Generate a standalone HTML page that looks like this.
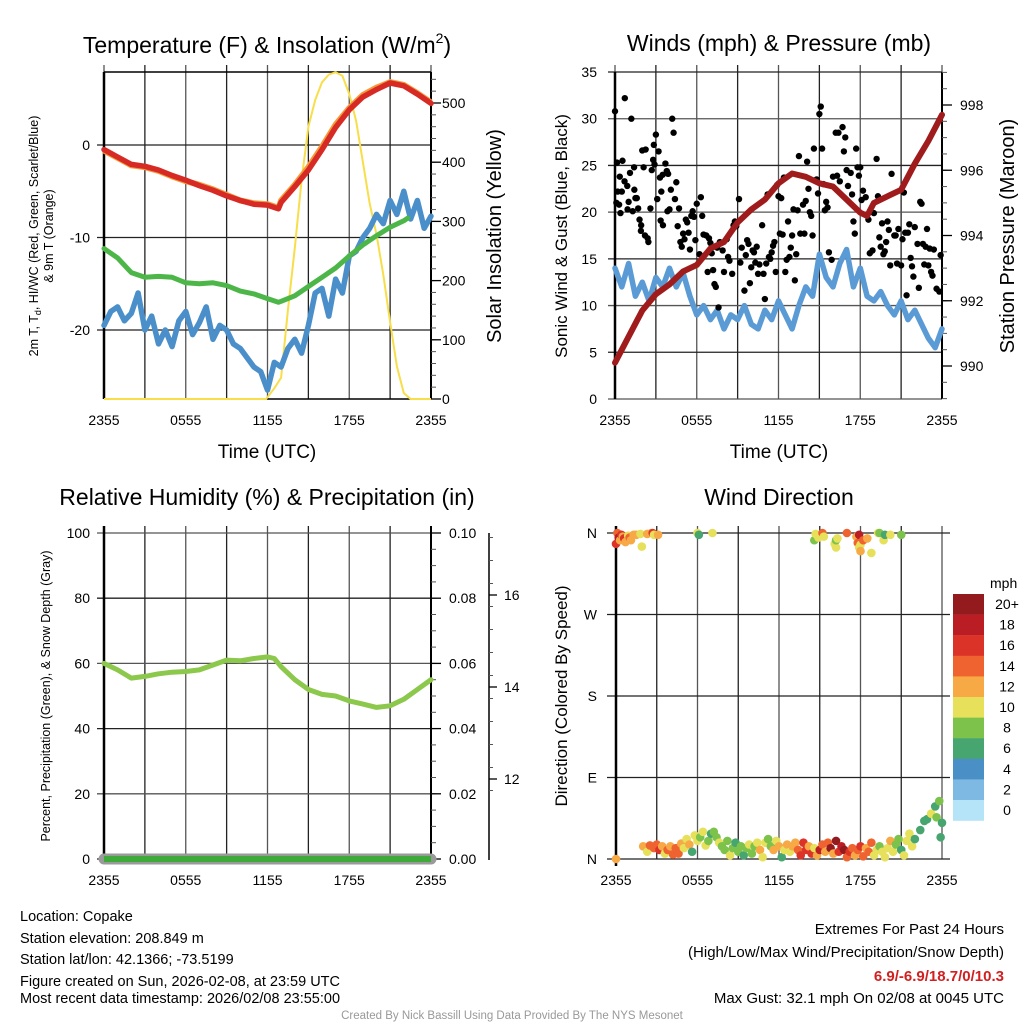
<!DOCTYPE html>
<html><head><meta charset="utf-8">
<style>
html,body{margin:0;padding:0;background:#fff;}
svg{display:block;font-family:"Liberation Sans",sans-serif;}
</style></head>
<body>
<svg id="chart" width="1024" height="1024" viewBox="0 0 1024 1024" xmlns="http://www.w3.org/2000/svg">
<g id="static">
  <text x="267" y="53" font-size="23" text-anchor="middle">Temperature (F) &amp; Insolation (W/m<tspan font-size="14" dy="-10">2</tspan><tspan dy="10">)</tspan></text>
  <text x="779" y="51" font-size="23" text-anchor="middle">Winds (mph) &amp; Pressure (mb)</text>
  <text x="267" y="505" font-size="23" text-anchor="middle">Relative Humidity (%) &amp; Precipitation (in)</text>
  <text x="779" y="505" font-size="23" text-anchor="middle">Wind Direction</text>

  <text transform="translate(38,236) rotate(-90)" font-size="12.5" text-anchor="middle">2m T, T<tspan font-size="9" dy="3">d</tspan><tspan dy="-3">, HI/WC (Red, Green, Scarlet/Blue)</tspan></text>
  <text transform="translate(53,236) rotate(-90)" font-size="12.5" text-anchor="middle">&amp; 9m T (Orange)</text>
  <text transform="translate(501,236) rotate(-90)" font-size="20" text-anchor="middle">Solar Insolation (Yellow)</text>
  <text transform="translate(567,236) rotate(-90)" font-size="17" text-anchor="middle">Sonic Wind &amp; Gust (Blue, Black)</text>
  <text transform="translate(1014,236) rotate(-90)" font-size="20" text-anchor="middle">Station Pressure (Maroon)</text>
  <text transform="translate(50,696) rotate(-90)" font-size="12.5" text-anchor="middle">Percent, Precipitation (Green), &amp; Snow Depth (Gray)</text>
  <text transform="translate(567,696) rotate(-90)" font-size="17" text-anchor="middle">Direction (Colored By Speed)</text>
  <text x="267" y="458" font-size="19" text-anchor="middle">Time (UTC)</text>
  <text x="779" y="458" font-size="19" text-anchor="middle">Time (UTC)</text>

  <g font-size="14.5">
    <text x="20" y="921">Location: Copake</text>
    <text x="20" y="943">Station elevation: 208.849 m</text>
    <text x="20" y="964">Station lat/lon: 42.1366; -73.5199</text>
    <text x="20" y="986">Figure created on Sun, 2026-02-08, at 23:59 UTC</text>
    <text x="20" y="1003">Most recent data timestamp: 2026/02/08 23:55:00</text>
  </g>
  <g font-size="15" text-anchor="end">
    <text x="1004" y="934">Extremes For Past 24 Hours</text>
    <text x="1004" y="957">(High/Low/Max Wind/Precipitation/Snow Depth)</text>
    <text x="1004" y="981" fill="#d22020" font-weight="bold">6.9/-6.9/18.7/0/10.3</text>
    <text x="1004" y="1003">Max Gust: 32.1 mph On 02/08 at 0045 UTC</text>
  </g>
  <text x="512" y="1019" font-size="11.5" fill="#999" text-anchor="middle">Created By Nick Bassill Using Data Provided By The NYS Mesonet</text>
</g>
<g id="dyn"></g>
</svg>
<script>
// ---------- data ----------
const xTickLabels = ["2355","0555","1155","1755","2355"];
const hourTimes = [0,1,2,3,4,5,6,7,8,9,10,11,12,12.8,13,14,15,16,17,18,19,20,21,22,23,24];
const tempValues = [-0.5,-1.3,-2.1,-2.3,-2.7,-3.3,-3.8,-4.4,-4.9,-5.5,-6.0,-6.4,-6.5,-6.9,-6.2,-4.5,-2.7,-0.5,1.9,3.8,5.2,6.0,6.7,6.4,5.5,4.5];
const temp9mValues = [-0.6,-1.4,-2.2,-2.4,-2.8,-3.4,-3.9,-4.3,-4.8,-5.4,-6.0,-6.3,-6.4,-6.8,-6.0,-4.3,-2.4,-0.2,2.2,4.0,5.4,6.2,6.8,6.5,5.6,4.6];
const dewTimes = [0,1,2,3,4,5,6,7,8,9,10,11,12,12.8,13,14,15,16,17,18,19,20,21,22,22.3];
const dewValues = [-11.2,-12.2,-13.8,-14.3,-14.2,-14.3,-14.9,-15.0,-14.9,-15.2,-15.8,-16.1,-16.6,-17.0,-16.9,-16.3,-15.3,-14.3,-13.3,-12.0,-10.8,-9.8,-8.9,-8.2,-7.9];
const halfTimes = [0,0.5,1,1.5,2,2.5,3,3.5,4,4.5,5,5.5,6,6.5,7,7.5,8,8.5,9,9.5,10,10.5,11,11.5,12,12.5,13,13.5,14,14.5,15,15.5,16,16.5,17,17.5,18,18.5,19,19.5,20,20.5,21,21.5,22,22.5,23,23.5,24];
const chillValues = [-19.5,-18,-17.5,-19,-18.2,-16,-20,-18.5,-21.5,-20,-21.8,-19,-18,-20.5,-19.2,-17.5,-21,-19.5,-20,-21.5,-22,-23,-24,-24.5,-26.5,-23.5,-24,-22,-21,-22.5,-19.5,-16,-15.5,-18.5,-14.5,-16,-12,-11.5,-10,-9,-7.5,-8.5,-6,-7.5,-5,-8,-6,-9,-7.7];
const solarTimes = [0,11.9,12.5,13,13.5,14,14.5,15,15.5,16,16.5,17,17.5,18,18.5,19,19.5,20,20.5,21,21.5,22,22.5,24];
const solarValues = [0,0,18,36,150,255,370,460,505,535,548,552,546,515,470,400,330,278,210,130,55,10,0,0];
const windValues = [14,12,14.5,11,12.5,10.5,13,12,14,12,13.5,11,9,10,8.5,9.5,7.5,9,8.5,10,8,7.5,9.5,8.5,10.5,9,7.5,10,12,11,15.5,13,12,14.5,16,12,14,11,10.5,11.5,10,9,10.5,8.5,9.5,8,6.5,5.5,7.5];
const pressTimes = [0,1,2,3,4,5,6,7,8,9,10,11,12,13,14,15,16,17,18,18.5,19,20,21,22,23,24];
const pressValues = [990.1,990.9,991.7,992.2,992.5,992.9,993.1,993.6,993.8,994.4,994.8,995.1,995.6,995.9,995.8,995.6,995.5,995.1,994.7,994.6,995.0,995.2,995.4,996.2,996.9,997.7];
const gustTimes = [0,0.1,0.15,0.2,0.3,0.35,0.4,0.5,0.55,0.7,0.72,0.9,0.92,1.0,1.1,1.2,1.3,1.4,1.42,1.5,1.6,1.7,1.8,1.9,1.92,2.0,2.1,2.2,2.25,2.4,2.45,2.6,2.7,2.8,2.85,2.9,3.0,3.1,3.2,3.3,3.35,3.4,3.5,3.52,3.7,3.8,3.85,3.9,4.0,4.1,4.2,4.3,4.4,4.5,4.6,4.7,4.8,4.9,5.0,5.1,5.2,5.3,5.4,5.5,5.6,5.7,5.8,5.9,6.0,6.2,6.3,6.4,6.5,6.7,6.8,6.9,7.0,7.1,7.2,7.3,7.4,7.5,7.6,7.7,7.9,8.0,8.2,8.3,8.4,8.6,8.7,8.8,8.9,9.1,9.2,9.3,9.5,9.6,9.7,9.8,9.9,10.0,10.1,10.2,10.3,10.4,10.5,10.6,10.8,10.9,11.0,11.1,11.2,11.3,11.4,11.5,11.6,11.7,11.8,11.9,12.0,12.1,12.2,12.3,12.4,12.5,12.6,12.7,12.8,12.9,13.0,13.1,13.2,13.3,13.4,13.5,13.6,13.8,13.9,14.0,14.1,14.2,14.3,14.4,14.5,14.6,14.8,14.9,15.0,15.1,15.2,15.3,15.4,15.5,15.6,15.7,15.9,16.0,16.2,16.3,16.4,16.5,16.7,16.8,16.9,17.0,17.1,17.3,17.4,17.5,17.6,17.7,17.8,17.9,18.0,18.1,18.2,18.4,18.6,18.7,18.9,19.0,19.2,19.3,19.4,19.5,19.6,19.7,19.8,19.9,20.0,20.1,20.2,20.3,20.5,20.6,20.7,20.8,21.0,21.1,21.2,21.3,21.4,21.5,21.6,21.7,21.8,21.9,22.0,22.2,22.3,22.4,22.5,22.6,22.7,22.8,22.9,23.0,23.1,23.2,23.3,23.4,23.6,23.8,23.9];
const gustValues = [30.8,21,25.3,22.2,20.8,23.8,19.9,22.2,25.5,23.3,32.2,22.8,20.3,21.1,24.2,30,20.1,24.8,22.4,21.5,21.5,20.4,19.2,18,18.6,26.6,24.8,17.5,26.7,17.2,16.8,20.4,24.5,25.6,27.2,25.1,28.3,21.4,26.5,23.7,19.1,22.2,24,18.6,25.2,24.4,20.1,24.1,20.3,22.4,30,28.5,21.4,23.2,18.5,20.4,16.8,16.3,17.7,17.1,19.2,18.9,17.8,16.0,19.6,20.1,19.5,17,20.9,15.5,21.6,19.6,17.6,17.5,13.6,17.2,16.7,15.6,13.8,12.3,12,16.2,9.8,16.8,15.9,13.6,17.1,15.2,14.8,13.4,18.6,19,18.5,21.4,14.6,16.2,11.6,15.4,17,16.6,12.4,14.1,15.9,15.7,14.6,16.3,13.4,14.4,18.6,13.4,10.7,14.5,21.9,15.2,15,15.7,16.4,16.8,13.6,22.9,21.7,17.7,21.5,17.6,23.7,13.6,14.9,19,15.2,16.2,17.5,20.3,12.7,15.5,20.2,26,17.7,20.8,17.7,21.2,25.4,22.5,20,19.6,17.5,26.8,23.5,22,30.5,31.3,26.8,23,20.2,21.1,20.5,15.7,14.9,23.8,28.5,23.9,28.5,23.3,29.1,26.5,28,24.5,22.8,24.2,21.9,19,17.7,26.8,24.8,23.9,24.8,21.3,22.3,21.6,19.2,15.6,15.9,19.9,25.7,21.7,17.3,16.3,18.8,15.5,15.8,16.8,19,18.1,14.3,24.1,17.5,17.5,14.5,18.2,14.3,17.1,22.1,17.8,11.1,17.8,18.7,15.1,14.2,13.1,18.4,16.6,11.9,21.1,20.9,16.6,14.4,16.3,18.2,14.3,16.1,13.6,13.2,16.0,11.8,11.5,15.4];
const rhTimes = [0,1,2,3,4,5,6,7,8,9,10,11,12,12.5,13,14,15,16,17,18,19,20,21,22,23,24];
const rhValues = [60,58,55.5,56,56.8,57.3,57.5,58,59.5,61,60.8,61.5,62,61.5,59,55,52,50.5,50,48.5,47.5,46.5,47,49,52,55];
const precipValues = [0,0];
const precipTimes = [0,24];
const dirTimes = [0,0.1,0.2,0.3,0.4,0.5,0.6,0.7,0.9,1.0,1.1,1.3,1.5,1.8,1.9,2.3,2.6,2.7,2.8,3.1,6.0,6.1,7.1,14.6,14.7,14.9,15.2,15.3,16.1,16.2,16.2,16.3,17.0,17.7,17.8,17.9,18.0,17.9,18.0,18.2,18.5,18.8,19.3,19.4,19.7,19.8,20.2,21.0,
 0,2.0,2.3,2.5,2.8,3.0,3.2,3.4,3.6,3.8,4.0,4.2,4.4,4.6,4.8,5.0,5.2,5.4,5.6,5.8,6.0,6.2,6.4,6.6,6.8,7.0,7.2,7.4,7.6,7.8,8.0,8.2,8.4,8.6,8.8,9.0,9.2,9.4,9.6,9.8,10.0,10.2,10.4,10.6,10.8,11.0,11.2,11.4,11.6,11.8,12.0,12.2,12.4,12.6,12.8,13.0,13.2,13.4,13.6,13.8,14.0,14.2,14.4,14.6,14.8,15.0,15.2,15.4,15.6,15.8,16.0,16.2,16.4,16.6,16.8,17.0,17.2,17.4,17.6,17.8,18.0,18.2,18.4,18.6,18.8,19.0,19.2,19.4,19.6,19.8,20.0,20.2,20.4,20.6,20.8,21.0,21.2,21.4,21.6,21.8,22.0,22.4,22.7,22.9,23.2,23.5,23.6,23.8,23.9,24];
const dirValues = [348,360,355,352,358,356,354,350,357,355,352,358,358,359,345,359,360,360,358,358,360,358,360,352,359,355,360,356,348,344,352,354,360,356,349,358,347,344,340,352,354,338,360,360,352,358,358,358,
 0,14,8,15,12,16,10,14,6,10,14,5,12,6,17,12,22,16,8,26,20,24,30,15,20,28,30,24,18,14,10,20,4,12,18,8,14,4,12,16,6,14,18,10,2,18,22,14,10,20,14,2,10,16,8,14,18,10,4,18,10,14,6,12,4,10,16,8,18,12,6,20,8,14,10,2,8,12,4,10,14,3,12,8,18,4,10,14,8,2,12,20,8,16,22,10,4,20,28,14,22,32,42,44,50,58,46,64,24,40];
const dirSpeeds = [16,15,18,13,17,12,16,13,11,14,13,12,12,10,10,12,12,16,10,12,10,7,10,8,10,10,15,10,10,10,8,10,15,13,15,19,10,10,12,14,12,10,10,8,10,6,10,8,
 12,12,10,14,14,14,16,12,10,14,12,14,14,14,12,10,10,12,6,10,10,8,10,10,8,6,8,8,10,8,8,8,10,8,6,8,8,6,8,10,8,8,10,12,10,10,8,8,12,10,12,6,10,12,10,12,12,14,16,16,16,12,16,10,12,18,14,12,14,20,12,20,16,18,20,14,16,14,12,14,16,14,12,14,14,10,10,8,10,10,10,12,10,8,8,6,10,10,10,10,6,6,6,6,10,6,8,8,6,6,8];
const legendLabels = ["20+","18","16","14","12","10","8","6","4","2","0"];
const legendColors = ["#931a1d","#bb1d25","#dc3328","#ef6330","#f6a945","#e6e05a","#7cc24b","#47a66f","#4a8fc5","#7db9e3","#b5e3f8"];
// ---------- helpers ----------
const NS="http://www.w3.org/2000/svg";
const root=document.getElementById('dyn');
function mk(tag,attrs,parent,txt){const e=document.createElementNS(NS,tag);for(const k in attrs)e.setAttribute(k,attrs[k]);if(txt!==undefined)e.textContent=txt;(parent||root).appendChild(e);return e;}
function lin(d0,d1,r0,r1){return v=>r0+(v-d0)/(d1-d0)*(r1-r0);}
function pathD(xs,ys,fx,fy){return xs.map((t,i)=>(i?'L':'M')+fx(t).toFixed(1)+','+fy(ys[i]).toFixed(1)).join('');}
function speedColor(s){const i=Math.max(0,Math.min(10,Math.floor(s/2)));return legendColors[10-i];}

function timeAxis(g,fx,y0,y1,labY){
  for(let k=0;k<=8;k++){
    const x=fx(k*3);
    const gl=mk('line',{x1:x,y1:y0-7,x2:x,y2:y1,stroke:(k%2?'#222':'#555'),'stroke-width':1.3},g);
    
    
  }
  xTickLabels.forEach((l,i)=>{
    const t=mk('text',{x:fx(i*6),y:labY,'font-size':14,'text-anchor':'middle'},g,l);
    
    
  });
}
function hGrid(g,x0,x1,y,label,lx,anchor,col){
  const l=mk('line',{x1:x0-7,y1:y,x2:x1,y2:y,stroke:col||'#222','stroke-width':1.3},g);
  
  
  if(label!==null){const t=mk('text',{x:lx,y:y+5,'font-size':14,'text-anchor':anchor||'end'},g,label);
  
  }
}
function rightAxis(g,x,yTop,yBot,majors,fy,minorStep,lo,hi,fmt,lx){
  mk('line',{x1:x,y1:yTop,x2:x,y2:yBot,stroke:'#000','stroke-width':2},g);
  for(let v=lo;v<=hi+1e-9;v+=minorStep){mk('line',{x1:x,y1:fy(v),x2:x+5,y2:fy(v),stroke:'#555','stroke-width':1},g);}
  majors.forEach(v=>{
    mk('line',{x1:x,y1:fy(v),x2:x+10,y2:fy(v),stroke:'#000','stroke-width':1.3},g);
    const t=mk('text',{x:lx,y:fy(v)+5,'font-size':14},g,fmt(v));
    
    
  });
}

// ---------- panel 1: temperature ----------
(function(){
  const g=mk('g',{});
  
  
  const X0=104,X1=431,Y0=72,Y1=399;
  const fx=lin(0,24,X0,X1), fy=lin(0,-10,145,237.5), fs=lin(0,500,399,103);
  timeAxis(g,fx,Y0,Y1,425);
  [0,-10,-20].forEach(v=>hGrid(g,X0,X1,fy(v),String(v),90));
  mk('line',{x1:X0,y1:Y0,x2:X1,y2:Y0,stroke:'#000','stroke-width':1.5},g);
  mk('line',{x1:X0,y1:Y1,x2:X1,y2:Y1,stroke:'#000','stroke-width':1.5},g);
  mk('line',{x1:X0,y1:Y0,x2:X0,y2:Y1,stroke:'#000','stroke-width':2.5},g);
  rightAxis(g,X1,Y0,Y1,[0,100,200,300,400,500],fs,20,0,540,v=>String(v),442);
  const so=mk('path',{d:pathD(solarTimes,solarValues,fx,fs),fill:'none',stroke:'#f7de4a','stroke-width':2},g);
  
  
  const wc=mk('path',{d:pathD(halfTimes,chillValues,fx,fy),fill:'none',stroke:'#4a8fc9','stroke-width':5.5,'stroke-linejoin':'round','stroke-linecap':'round'},g);
  
  
  const dw=mk('path',{d:pathD(dewTimes,dewValues,fx,fy),fill:'none',stroke:'#4cb748','stroke-width':5,'stroke-linejoin':'round','stroke-linecap':'round'},g);
  
  
  const o9=mk('path',{d:pathD(hourTimes,temp9mValues,fx,fy),fill:'none',stroke:'#f59a3a','stroke-width':6,'stroke-linejoin':'round'},g);
  
  
  const tl=mk('path',{d:pathD(hourTimes,tempValues,fx,fy),fill:'none',stroke:'#d82a25','stroke-width':5.5,'stroke-linejoin':'round','stroke-linecap':'round'},g);
  
  
})();

// ---------- panel 2: winds ----------
(function(){
  const g=mk('g',{});
  
  
  const X0=615,X1=942,Y0=72,Y1=399;
  const fx=lin(0,24,X0,X1), fy=lin(0,35,Y1,Y0), fp=lin(990,998,366,105);
  timeAxis(g,fx,Y0,Y1,425);
  [0,5,10,15,20,25,30,35].forEach((v,i)=>hGrid(g,X0,X1,fy(v),String(v),597,'end',i%2?'#222':'#555'));
  mk('line',{x1:X0,y1:Y0,x2:X0,y2:Y1,stroke:'#000','stroke-width':2.5},g);
  rightAxis(g,X1,Y0,Y1,[990,992,994,996,998],fp,0.5,989,999,v=>String(v),960);
  const wl=mk('path',{d:pathD(halfTimes,windValues,fx,fy),fill:'none',stroke:'#5b9bd5','stroke-width':5.5,'stroke-linejoin':'round','stroke-linecap':'round'},g);
  
  
  gustTimes.forEach((t,i)=>{
    const c=mk('circle',{cx:fx(t),cy:fy(gustValues[i]),r:3.2,fill:'#000'},g);
    
    
  });
  const pl=mk('path',{d:pathD(pressTimes,pressValues,fx,fp),fill:'none',stroke:'#a01c1c','stroke-width':6,'stroke-linejoin':'round','stroke-linecap':'round'},g);
  
  
})();

// ---------- panel 3: RH ----------
(function(){
  const g=mk('g',{});
  
  
  const X0=104,X1=431,Y0=533,Y1=859;
  const fx=lin(0,24,X0,X1), fy=lin(0,100,Y1,Y0), fq=lin(0,0.1,Y1,Y0), fsd=lin(12,16,779,595);
  timeAxis(g,fx,Y0,Y1,885);
  [0,20,40,60,80,100].forEach((v,i)=>hGrid(g,X0,X1,fy(v),String(v),90,'end',i%2?'#555':'#222'));
  mk('line',{x1:X0,y1:Y0-7,x2:X0,y2:Y1,stroke:'#000','stroke-width':2.5},g);
  rightAxis(g,X1,Y0-7,Y1,[0,0.02,0.04,0.06,0.08,0.1],fq,0.005,0,0.1,v=>v.toFixed(2),449);
  mk('line',{x1:489,y1:533,x2:489,y2:860,stroke:'#000','stroke-width':1.5},g);
  for(let v=11.75;v<=17.3;v+=0.5){mk('line',{x1:489,y1:fsd(v),x2:493,y2:fsd(v),stroke:'#555','stroke-width':1},g);}
  [12,14,16].forEach(v=>{mk('line',{x1:489,y1:fsd(v),x2:497,y2:fsd(v),stroke:'#000','stroke-width':1.3},g);
    const t=mk('text',{x:504,y:fsd(v)+5,'font-size':14},g,String(v));
    
    });
  const sd=mk('path',{d:pathD(precipTimes,precipValues,fx,fq),fill:'none',stroke:'#9a9a9a','stroke-width':11,'stroke-linecap':'round'},g);
  
  
  const pr=mk('path',{d:pathD(precipTimes,precipValues,fx,fq),fill:'none',stroke:'#3daa3a','stroke-width':6},g);
  
  
  const rh=mk('path',{d:pathD(rhTimes,rhValues,fx,fy),fill:'none',stroke:'#8cc84b','stroke-width':5,'stroke-linejoin':'round','stroke-linecap':'round'},g);
  
  
})();

// ---------- panel 4: direction ----------
(function(){
  const g=mk('g',{});
  
  
  const X0=616,X1=942,Y0=533,Y1=859;
  const fx=lin(0,24,X0,X1), fy=lin(0,360,Y1,Y0);
  timeAxis(g,fx,Y0,Y1,885);
  const dl=["N","E","S","W","N"];
  [0,90,180,270,360].forEach((v,i)=>hGrid(g,X0-2,X1+8,fy(v),dl[i],597,'end','#222'));
  mk('line',{x1:X0,y1:Y0-7,x2:X0,y2:Y1+7,stroke:'#000','stroke-width':2.5},g);
  dirTimes.forEach((t,i)=>{
    if(dirValues[i]===undefined||dirSpeeds[i]===undefined) return;
    const c=mk('circle',{cx:fx(t),cy:fy(dirValues[i]),r:4.3,fill:speedColor(dirSpeeds[i])},g);
    
    
  });
  const lg=mk('g',{},g);
  
  
  mk('text',{x:990,y:588,'font-size':14},lg,'mph');
  legendColors.forEach((c,i)=>{
    const r=mk('rect',{x:953,y:594+i*20.6,width:31,height:20.8,fill:c},lg);
    
    
    const t=mk('text',{x:1007,y:609+i*20.6,'font-size':14,'text-anchor':'middle'},lg,legendLabels[i]);
    
    
  });
})();
</script>
</body></html>
